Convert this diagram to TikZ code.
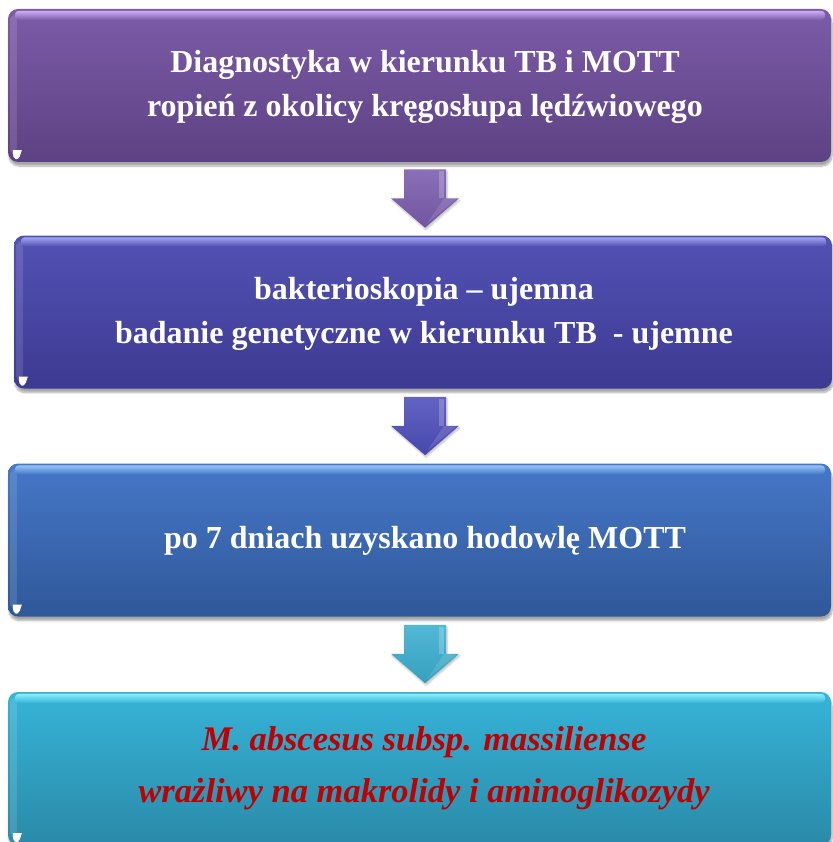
\documentclass[tikz,border=0pt]{standalone}
\usepackage{fontspec}
\setmainfont{Liberation Serif}
\usetikzlibrary{shadows,shadows.blur,calc}
\definecolor{p1t}{HTML}{7C5BA8}\definecolor{p1b}{HTML}{5D4283}\definecolor{p1h}{HTML}{CDAEF5}
\definecolor{p2t}{HTML}{5352B4}\definecolor{p2b}{HTML}{3D3A92}\definecolor{p2h}{HTML}{A2A2F2}
\definecolor{p3t}{HTML}{4677C8}\definecolor{p3b}{HTML}{2F5899}\definecolor{p3h}{HTML}{96C4F7}
\definecolor{p4t}{HTML}{36B4D8}\definecolor{p4b}{HTML}{2A8AA8}\definecolor{p4h}{HTML}{8AF0FF}
\definecolor{a1c}{HTML}{7B5CAE}\definecolor{a2c}{HTML}{4D4EBB}\definecolor{a3c}{HTML}{3AAED0}
\definecolor{redtxt}{HTML}{C00000}
\tikzset{
  box/.style={rounded corners=10pt, minimum height=153pt, inner sep=0pt,
    blur shadow={shadow xshift=1pt, shadow yshift=-4pt, shadow opacity=35, shadow blur steps=8}},
  arrowslot/.style={inner sep=0pt, minimum width=68pt, minimum height=58pt},
  arrowbody/.style={blur shadow={shadow xshift=1pt, shadow yshift=-2pt, shadow opacity=25, shadow blur steps=5}},
  whitetxt/.style={text=white, font=\fontsize{32}{44}\selectfont\bfseries, align=center},
  redtext/.style={text=redtxt, font=\fontsize{34.5}{52}\selectfont\bfseries\itshape, align=center},
}
% gloss on a box: #1 = node, #2 = highlight colour, #3 = top colour
\newcommand{\gloss}[3]{%
  \shade[top color=#2, bottom color=#3, rounded corners=4pt]
    ($(#1.north west)+(7,2)$) rectangle ($(#1.north east)+(-6,11)$);
  \fill[white, opacity=0.12, rounded corners=6pt]
    ($(#1.north west)+(2,6)$) rectangle ($(#1.south west)+(9,-8)$);
  \fill[white] ($(#1.south west)+(5,-12)$) -- ($(#1.south west)+(14,-12)$) --
    ($(#1.south west)+(12,-6)$) .. controls ($(#1.south west)+(11,-3)$) and ($(#1.south west)+(9,-3)$) ..
    ($(#1.south west)+(8,-3)$)
    .. controls ($(#1.south west)+(6,-4)$) and ($(#1.south west)+(5,-6)$) ..
    ($(#1.south west)+(5,-9)$) -- cycle;
}
% block arrow inside a named slot node: #1 node, #2 colour
\newcommand{\blockarrow}[2]{%
  \shade[arrowbody, top color=#2!88!white, bottom color=#2!92!black]
    ($(#1.north)+(-21,0)$) -- ($(#1.north)+(21,0)$) -- ($(#1.north)+(21,29)$) --
    ($(#1.north)+(34,29)$) -- (#1.south) -- ($(#1.north)+(-34,29)$) --
    ($(#1.north)+(-21,29)$) -- cycle;
  \fill[white, opacity=0.22] ($(#1.north)+(14,2)$) rectangle ($(#1.north)+(19,29)$);
  \fill[white, opacity=0.12] ($(#1.north)+(19,29)$) -- ($(#1.north)+(31,30)$) -- ($(#1.south)+(2,-4)$) -- cycle;
}
\begin{document}
\begin{tikzpicture}[x=1pt, y=-1pt]
\useasboundingbox (0,0) rectangle (832,842);

\node[box, top color=p1t, bottom color=p1b, minimum width=823pt] (b1) at (419.5,85.5) {};
\gloss{b1}{p1h}{p1t}
\node[box, top color=p2t, bottom color=p2b, minimum width=818pt] (b2) at (423,312) {};
\gloss{b2}{p2h}{p2t}
\node[box, top color=p3t, bottom color=p3b, minimum width=823pt] (b3) at (419.5,540) {};
\gloss{b3}{p3h}{p3t}
\node[box, top color=p4t, bottom color=p4b, minimum width=823pt] (b4) at (419.5,768.5) {};
\gloss{b4}{p4h}{p4t}

\node[whitetxt] (t1) at (425,87) {Diagnostyka w kierunku TB i MOTT\\ropień z okolicy kręgosłupa lędźwiowego};
\node[whitetxt] (t2) at (424,314) {bakterioskopia – ujemna\\badanie genetyczne w kierunku TB~ - ujemne};
\node[whitetxt] (t3) at (425,541) {po 7 dniach uzyskano hodowlę MOTT};
\node[redtext] (t4) at (424,768) {M. abscesus subsp. massiliense\\wrażliwy na makrolidy i aminoglikozydy};

\node[arrowslot] (a1) at (425,198.5) {};
\blockarrow{a1}{a1c}
\node[arrowslot] (a2) at (425,426) {};
\blockarrow{a2}{a2c}
\node[arrowslot] (a3) at (425,654) {};
\blockarrow{a3}{a3c}
\end{tikzpicture}
\end{document}
